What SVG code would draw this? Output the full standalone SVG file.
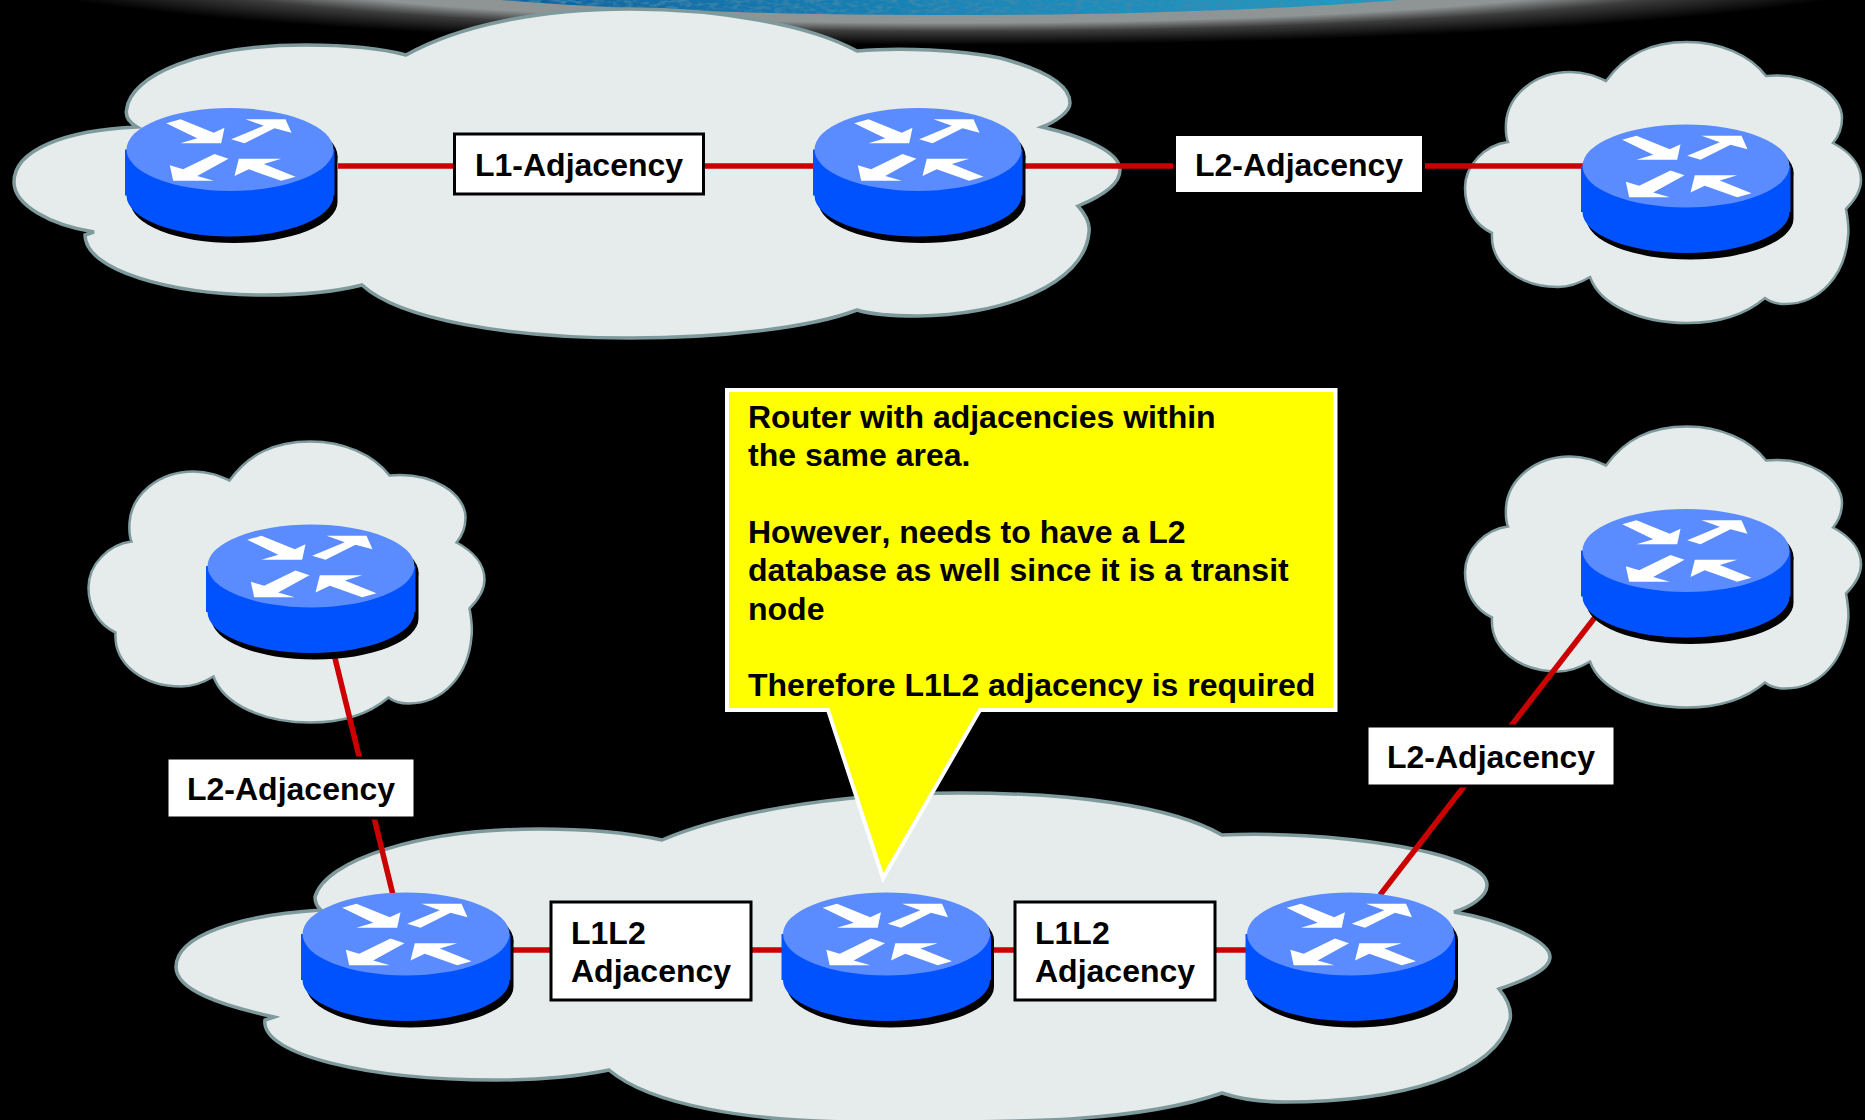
<svg xmlns="http://www.w3.org/2000/svg" xmlns:xlink="http://www.w3.org/1999/xlink" width="1865" height="1120" viewBox="0 0 1865 1120">
<style>
.cloud{fill:#e6ecec;stroke:#7f9a9c;stroke-width:3.5;stroke-linejoin:miter}
.small{stroke-width:2.5}
.link{stroke:#cc0000;stroke-width:5.5;fill:none}
.lbl{fill:#fff;stroke:#000;stroke-width:3}
text{font-family:"Liberation Sans",Arial,sans-serif;font-weight:bold;font-size:32px;fill:#000}
</style>
<defs>
<radialGradient id="glow" gradientUnits="userSpaceOnUse" cx="0" cy="0" r="1" gradientTransform="translate(950 -40) scale(1000 85)">
<stop offset="0.62" stop-color="#8f9494"/><stop offset="0.74" stop-color="#8f9494"/><stop offset="0.84" stop-color="#3c3c3c"/><stop offset="1" stop-color="#000"/>
</radialGradient>
<linearGradient id="sea" x1="0" x2="1" y1="0" y2="0">
<stop offset="0" stop-color="#0b4f92"/><stop offset="0.5" stop-color="#1a86b8"/><stop offset="1" stop-color="#2aa6c8"/>
</linearGradient>
<filter id="ripple" x="0" y="0" width="1" height="1">
<feTurbulence type="fractalNoise" baseFrequency="0.12 0.3" numOctaves="2" seed="4" result="n"/>
<feColorMatrix in="n" type="matrix" values="0 0 0 0 0.05  0 0 0 0 0.25  0 0 0 0 0.4  0 0 0 2.2 -0.9" result="d"/>
<feComposite in="d" in2="SourceGraphic" operator="in" result="c"/>
<feMerge><feMergeNode in="SourceGraphic"/><feMergeNode in="c"/></feMerge>
</filter>
<path id="smallcloud" class="cloud small" d="M1606,81 C1625,55 1650,42 1687,42 C1720,42 1750,55 1766,76 C1810,72 1842,95 1842,118 C1842,128 1838,137 1833,143 C1850,152 1861,165 1861,180 C1861,190 1855,200 1846,209 C1848,220 1849,230 1848,237 C1845,275 1820,304 1785,304 C1778,304 1770,302 1765,298 C1745,315 1720,323 1687,323 C1640,323 1600,305 1590,277 C1580,283 1570,287 1558,287 C1520,287 1490,265 1492,233 C1475,225 1465,208 1465,188 C1465,165 1485,145 1508,142 C1505,135 1506,125 1506,123 C1508,95 1535,72 1570,72 C1585,72 1595,76 1606,81 Z"/>
<g id="router">
<ellipse cx="4" cy="6.5" rx="103.5" ry="41.5" fill="#000"/>
<path fill="#000" d="M-99.5,6.5 V52.5 A103.5,41 0 0 0 107.5,52.5 V6.5 Z"/>
<path fill="#0052ff" d="M-105,0 V46 H-103.5 A103.5,41 0 0 0 103.5,46 H104.5 V0 Z"/>
<ellipse cx="0" cy="0" rx="103.5" ry="41.5" fill="#5b8cff"/>
<g fill="#fff">
<polygon points="-63.8,-26.2 -49.5,-30.2 -16.2,-16.8 -5.5,-21.8 -8.8,-6.2 -49.5,-6.2 -32.8,-11.2"/>
<polygon points="1.2,-10.2 33.8,-23.8 15.5,-30.2 55.5,-30.2 61.5,-16.8 44.5,-21.2 14.5,-6.2"/>
<polygon points="-15.5,4.5 -1.5,9.2 -32.8,26.5 -16.2,31.2 -56.8,31.2 -60.2,15.8 -46.8,19.8"/>
<polygon points="4.5,26.5 8.8,9.2 51.2,9.2 33.8,14.5 65.5,27.2 51.2,31.2 18.8,19.8"/>
</g>
</g>
</defs>
<rect width="1865" height="1120" fill="#000"/>
<g id="banner">
<ellipse cx="950" cy="-40" rx="1000" ry="85" fill="url(#glow)"/>
<ellipse cx="950" cy="-40" rx="655" ry="55" fill="url(#sea)" filter="url(#ripple)"/>
</g>
<g id="cloud-top-area">
<path class="cloud" d="M406,55 C460,25 540,9 630,9 C720,9 810,25 857,51 C900,47 960,50 1000,58 C1045,70 1070,85 1070,103 C1070,112 1055,122 1042,127 C1085,137 1120,152 1120,170 C1120,185 1100,197 1078,206 C1086,215 1090,225 1089,232 C1085,285 1000,316 917,316 C890,316 870,314 857,310 C810,328 720,338 630,338 C510,338 400,320 362,285 C330,293 300,295 265,295 C170,295 85,270 85,235 L94,232 C50,225 14,205 14,182 C14,150 65,130 137,127 C125,120 126,113 126.5,110 C130,75 200,45 306,45 C345,45 380,48 406,55 Z"/>
</g>
<g id="cloud-top-right"><use xlink:href="#smallcloud" href="#smallcloud"/></g>
<g id="cloud-mid-left"><use xlink:href="#smallcloud" href="#smallcloud" transform="translate(-1376.5 399.5)"/></g>
<g id="cloud-mid-right"><use xlink:href="#smallcloud" href="#smallcloud" transform="translate(0 384.5)"/></g>
<g id="cloud-bottom-area">
<path class="cloud" d="M662,840 C720,815 830,793 960,793 C1070,793 1170,805 1222,835 C1320,830 1487,850 1487,885 C1487,897 1470,907 1454,912 C1500,920 1550,940 1550,957 C1550,970 1525,980 1499,989 C1508,1000 1512,1010 1510,1020 C1495,1075 1400,1102 1284,1102 C1260,1102 1240,1099 1222,1093 C1130,1125 1000,1122 860,1122 C750,1122 650,1105 609,1070 C570,1078 530,1080 495,1080 C370,1080 260,1055 265,1020 L274,1017 C220,1005 176,990 176,967 C176,935 240,915 321,910 C315,905 315,900 315,897 C325,860 420,829 539,829 C585,829 630,833 662,840 Z"/>
</g>
<g id="connectors">
<line class="link" x1="338" y1="166" x2="1584" y2="166"/>
<line class="link" x1="333" y1="650" x2="393" y2="895"/>
<line class="link" x1="1596" y1="616" x2="1380" y2="895"/>
<line class="link" x1="510" y1="950" x2="1250" y2="950"/>
</g>
<g id="router-1"><use xlink:href="#router" href="#router" x="230" y="149.5"/></g>
<g id="router-2"><use xlink:href="#router" href="#router" x="918" y="149.5"/></g>
<g id="router-3"><use xlink:href="#router" href="#router" x="1686" y="166"/></g>
<g id="router-4"><use xlink:href="#router" href="#router" x="311" y="566"/></g>
<g id="router-5"><use xlink:href="#router" href="#router" x="1686" y="550.5"/></g>
<g id="router-6"><use xlink:href="#router" href="#router" x="406" y="934"/></g>
<g id="router-7"><use xlink:href="#router" href="#router" x="886.5" y="934"/></g>
<g id="router-8"><use xlink:href="#router" href="#router" x="1350.5" y="934"/></g>
<g id="label-l1"><rect class="lbl" x="454.5" y="134" width="249" height="60"/><text x="475" y="176">L1-Adjacency</text></g>
<g id="label-l2-top"><rect class="lbl" x="1174.5" y="134.5" width="249" height="59"/><text x="1195" y="176">L2-Adjacency</text></g>
<g id="label-l2-left"><rect class="lbl" x="167" y="758" width="248" height="60"/><text x="187" y="800">L2-Adjacency</text></g>
<g id="label-l2-right"><rect class="lbl" x="1367" y="726" width="248" height="60"/><text x="1387" y="768">L2-Adjacency</text></g>
<g id="label-l1l2-left"><rect class="lbl" x="551" y="902" width="200" height="98"/><text x="571" y="944">L1L2</text><text x="571" y="982">Adjacency</text></g>
<g id="label-l1l2-right"><rect class="lbl" x="1015" y="902" width="200" height="98"/><text x="1035" y="944">L1L2</text><text x="1035" y="982">Adjacency</text></g>
<g id="callout">
<path d="M727,390 H1335.5 V710 H980 L883,878 L828,710 H727 Z" fill="#ffff00" stroke="#fff" stroke-width="4"/>
<text x="748" y="428">Router with adjacencies within</text>
<text x="748" y="465.5">the same area.</text>
<text x="748" y="543" style="font-kerning:none">However, needs to have a L2</text>
<text x="748" y="581">database as well since it is a transit</text>
<text x="748" y="620">node</text>
<text x="748" y="696">Therefore L1L2 adjacency is required</text>
</g>
</svg>
